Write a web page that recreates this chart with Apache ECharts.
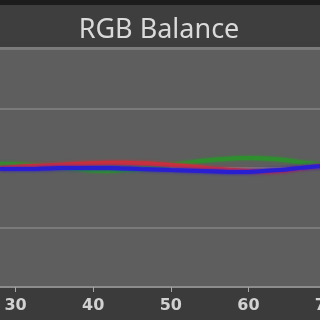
<!DOCTYPE html>
<html><head><meta charset="utf-8">
<script src="https://cdn.jsdelivr.net/npm/echarts@6/dist/echarts.min.js"></script>
<style>html,body{margin:0;padding:0;background:#3b3b3b}#c{width:320px;height:320px}</style>
</head><body><div id="c"></div>
<script>
const xValues = [28,30,32,34,36,38,40,42,44,46,48,50,52,54,56,58,60,62,64,66,68,70];
const xTicks = [30,40,50,60,70];
const redValues = [0,0.17,0.34,0.42,0.55,0.7,0.8,0.9,0.9,0.8,0.67,0.5,0.34,0.08,-0.17,-0.34,-0.5,-0.59,-0.5,-0.17,0.17,0.5];
const greenValues = [0.67,0.67,0.5,0.34,0.08,-0.17,-0.42,-0.5,-0.34,-0.17,0.17,0.5,0.84,1.18,1.43,1.6,1.68,1.6,1.43,1.09,0.76,0.59];
const blueValues = [-0.17,-0.17,-0.17,-0.08,0,0,0,0,-0.08,-0.17,-0.25,-0.34,-0.42,-0.5,-0.59,-0.67,-0.67,-0.5,-0.34,-0.08,0.17,0.34];
const titleText = 'RGB Balance';

const pairs = a => xValues.map((x,i)=>[x,a[i]]);
const chart = echarts.init(document.getElementById('c'), null, {renderer:'canvas'});
const ls = c => ({color:c, width:4, shadowColor:c, shadowBlur:3});
chart.setOption({
  backgroundColor:'#3b3b3b',
  animation:false,
  graphic:[
    {type:'rect', shape:{x:0,y:0,width:320,height:5}, style:{fill:'#1c1c1c'}, z:-1},
    {type:'rect', shape:{x:0,y:5,width:320,height:42}, style:{fill:'#3e3e3e'}, z:-1},
    {type:'rect', shape:{x:0,y:47,width:320,height:2}, style:{fill:'#7c7c7c'}, z:10}
  ],
  title:{text:titleText, left:154, top:12, textAlign:'center',
    textStyle:{color:'#dadada', fontFamily:'Noto Sans', fontSize:27, fontWeight:'normal'}},
  grid:{left:0, right:-6, top:49, bottom:33, show:true, backgroundColor:'#5e5e5e', borderWidth:0,
    containLabel:false, outerBoundsMode:'none'},
  xAxis:{type:'value', min:28, max:70,
    axisLine:{show:true, onZero:false, lineStyle:{color:'#8c8c8c', width:2}},
    axisTick:{show:true, length:5, inside:false, customValues:xTicks, lineStyle:{color:'#a8a8a8', width:1}},
    splitLine:{show:false},
    axisLabel:{color:'#d2d2d2', fontFamily:'DejaVu Sans', fontWeight:'bold', fontSize:16, margin:11,
      customValues:xTicks, hideOverlap:false, showMaxLabel:true, showMinLabel:true}},
  yAxis:{type:'value', min:-20, max:20, interval:10,
    axisLine:{show:false}, axisTick:{show:false}, axisLabel:{show:false},
    splitLine:{show:true, lineStyle:{color:'#7a7a7a', width:2}}},
  series:[
    {type:'line', data:pairs(greenValues), smooth:true, symbol:'none', lineStyle:ls('#2f8f2f')},
    {type:'line', data:pairs(redValues), smooth:true, symbol:'none', lineStyle:ls('#c8303e')},
    {type:'line', data:pairs(blueValues), smooth:true, symbol:'none', lineStyle:ls('#2a1fd0')}
  ]
});
</script></body></html>
